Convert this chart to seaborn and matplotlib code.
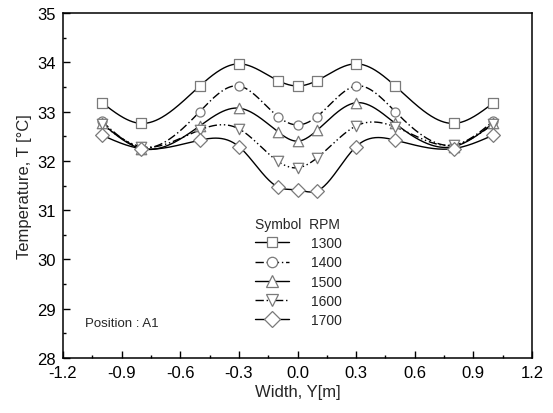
import numpy as np
import pandas as pd
import seaborn as sns
import matplotlib.pyplot as plt
from matplotlib.lines import Line2D
from matplotlib.ticker import AutoMinorLocator

# values
width = [-1.0, -0.8, -0.5, -0.3, -0.1, 0.0, 0.1, 0.3, 0.5, 0.8, 1.0]
rpm_labels = ["1300", "1400", "1500", "1600", "1700"]
t_1300 = [33.18, 32.76, 33.52, 33.97, 33.63, 33.52, 33.63, 33.97, 33.52, 32.76, 33.17]
t_1400 = [32.80, 32.27, 33.00, 33.52, 32.90, 32.73, 32.90, 33.52, 33.00, 32.32, 32.80]
t_1500 = [32.76, 32.25, 32.71, 33.07, 32.59, 32.40, 32.62, 33.18, 32.76, 32.29, 32.76]
t_1600 = [32.74, 32.29, 32.63, 32.65, 31.99, 31.86, 32.06, 32.71, 32.69, 32.32, 32.74]
t_1700 = [32.52, 32.25, 32.42, 32.29, 31.47, 31.41, 31.39, 32.29, 32.42, 32.25, 32.52]
series = [t_1300, t_1400, t_1500, t_1600, t_1700]

markers = ["s", "o", "^", "v", "D"]
msizes = [6.5, 6.5, 7.5, 7.5, 7]
dashes = ["-", (0, (6, 2, 1, 2)), "-", (0, (6, 2, 1, 2, 1, 2)), "-"]


def smooth(x, y, n=400):
    # natural cubic spline, only used to draw the connecting curve
    x = np.asarray(x, float)
    y = np.asarray(y, float)
    h = np.diff(x)
    k = len(x)
    A = np.zeros((k, k))
    b = np.zeros(k)
    A[0, 0] = A[-1, -1] = 1
    for i in range(1, k - 1):
        A[i, i - 1] = h[i - 1]
        A[i, i] = 2 * (h[i - 1] + h[i])
        A[i, i + 1] = h[i]
        b[i] = 6 * ((y[i + 1] - y[i]) / h[i] - (y[i] - y[i - 1]) / h[i - 1])
    M = np.linalg.solve(A, b)
    xs = np.linspace(x[0], x[-1], n)
    idx = np.clip(np.searchsorted(x, xs) - 1, 0, k - 2)
    x0, x1 = x[idx], x[idx + 1]
    hh = x1 - x0
    ys = (M[idx] * (x1 - xs) ** 3 / (6 * hh) + M[idx + 1] * (xs - x0) ** 3 / (6 * hh)
          + (y[idx] / hh - M[idx] * hh / 6) * (x1 - xs)
          + (y[idx + 1] / hh - M[idx + 1] * hh / 6) * (xs - x0))
    return xs, ys


sns.set_style("ticks")
plt.rcParams['font.family'] = ['Liberation Sans', 'DejaVu Sans']

fig = plt.figure(figsize=(5.53, 4.14), dpi=100)
ax = fig.add_axes([0.114, 0.133, 0.848, 0.833])

edge = "#7a7a7a"
handles = []
for lab, temps, m, ms, ls in zip(rpm_labels, series, markers, msizes, dashes):
    xs, ys = smooth(width, temps)
    curve = pd.DataFrame({"Y": xs, "T": ys})
    sns.lineplot(data=curve, x="Y", y="T", ax=ax, color="black", lw=1.0, zorder=2)
    ax.lines[-1].set_linestyle(ls)
    pts = pd.DataFrame({"Y": width, "T": temps})
    sns.scatterplot(data=pts, x="Y", y="T", ax=ax, marker=m, s=(ms ** 2),
                    facecolor="white", edgecolor=edge, linewidth=0.9, zorder=3)
    handles.append(Line2D([], [], color="black", lw=1.0, linestyle=ls, marker=m,
                          markersize=ms + 1, markerfacecolor="white",
                          markeredgecolor=edge, markeredgewidth=0.9))

ax.set_xlim(-1.2, 1.2)
ax.set_ylim(28, 35)
ax.set_xticks(np.arange(-1.2, 1.21, 0.3))
ax.set_xticklabels([f"{v:.1f}" for v in np.arange(-1.2, 1.21, 0.3)])
ax.set_yticks(range(28, 36))
ax.xaxis.set_minor_locator(AutoMinorLocator(2))
ax.yaxis.set_minor_locator(AutoMinorLocator(2))
ax.tick_params(which="both", direction="in", top=False, right=False,
               labelsize=12, width=1.0, color="black", labelcolor="black")
ax.tick_params(which="major", length=5, pad=5)
ax.tick_params(which="minor", length=2.5)
for sp in ax.spines.values():
    sp.set_visible(True)
    sp.set_linewidth(1.1)
    sp.set_color("black")

ax.set_xlabel("Width, Y[m]", fontsize=12, labelpad=3)
ax.set_ylabel("Temperature, T [°C]", fontsize=12, labelpad=4)

leg = ax.legend(handles, rpm_labels, title="Symbol  RPM", frameon=False,
                loc="upper left", bbox_to_anchor=(0.398, 0.425), fontsize=10,
                title_fontsize=10, handlelength=2.45, handletextpad=1.6,
                labelspacing=0.38, alignment="left", borderaxespad=0)

ax.text(0.046, 0.10, "Position : A1", transform=ax.transAxes, fontsize=9.5,
        va="center", ha="left")

fig.savefig("out.png", dpi=100)
